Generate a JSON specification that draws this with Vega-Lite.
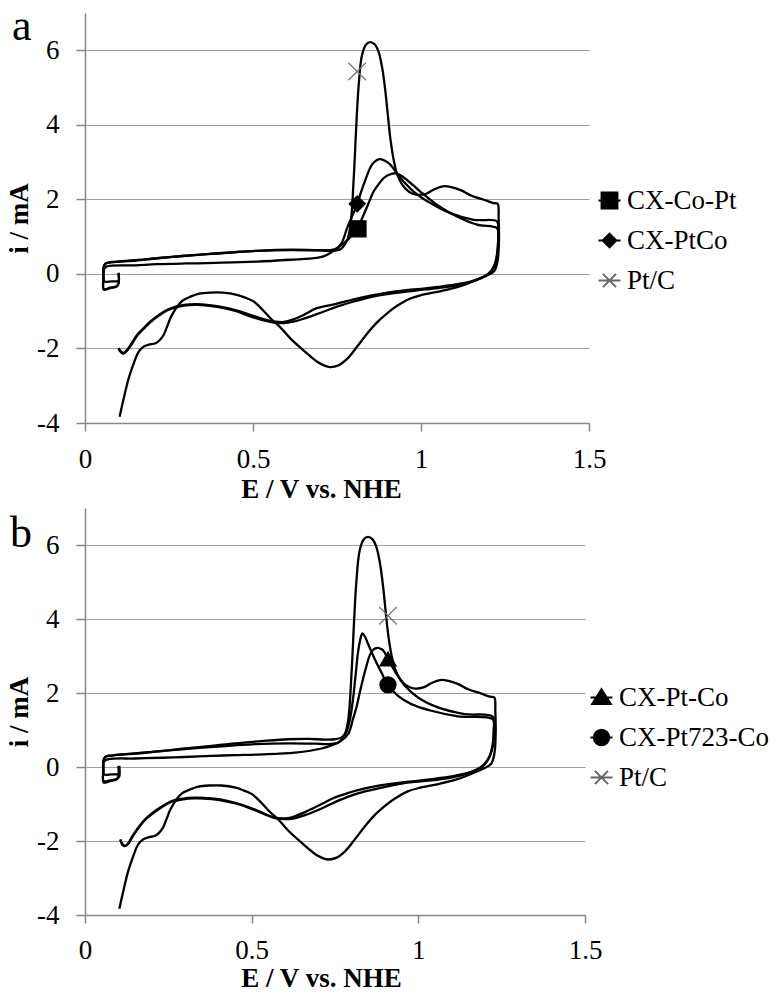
{
  "$schema": "https://vega.github.io/schema/vega-lite/v6.json",
  "background": "white",
  "padding": {"left": 5, "top": 5, "right": 0, "bottom": 0},
  "config": {
    "view": {"stroke": null},
    "style": {"guide-label": {"font": "Liberation Serif"}, "guide-title": {"font": "Liberation Serif"}},
    "axis": {"labelFontSize": 27, "titleFontSize": 27, "labelColor": "black", "titleColor": "black", "domainColor": "#868686", "tickColor": "#868686", "gridColor": "#a0a0a0", "gridWidth": 1, "domainWidth": 1.5, "tickWidth": 1.5},
    "legend": {"labelFontSize": 27, "labelColor": "black", "symbolSize": 484, "symbolStrokeWidth": 2, "rowPadding": 12, "labelOffset": 4, "padding": 0, "orient": "none"},
    "title": {"fontSize": 44, "fontWeight": "normal", "color": "black", "anchor": "start", "offset": 0, "frame": "group", "baseline": "alphabetic"}
  },
  "datasets": {
    "curvesA": [
      {"s":"Pt/C","k":1,"E":0.100,"i":0.03},{"s":"Pt/C","k":2,"E":0.100,"i":-0.25},{"s":"Pt/C","k":3,"E":0.094,"i":-0.34},{"s":"Pt/C","k":4,"E":0.075,"i":-0.38},{"s":"Pt/C","k":5,"E":0.056,"i":-0.42},{"s":"Pt/C","k":6,"E":0.055,"i":-0.1},{"s":"Pt/C","k":7,"E":0.056,"i":0.2},{"s":"Pt/C","k":8,"E":0.062,"i":0.28},{"s":"Pt/C","k":9,"E":0.08,"i":0.31},{"s":"Pt/C","k":10,"E":0.15,"i":0.36},
      {"s":"Pt/C","k":11,"E":0.214,"i":0.42},{"s":"Pt/C","k":12,"E":0.29,"i":0.48},{"s":"Pt/C","k":13,"E":0.363,"i":0.53},{"s":"Pt/C","k":14,"E":0.44,"i":0.58},{"s":"Pt/C","k":15,"E":0.512,"i":0.62},{"s":"Pt/C","k":16,"E":0.611,"i":0.64},{"s":"Pt/C","k":17,"E":0.69,"i":0.63},{"s":"Pt/C","k":18,"E":0.73,"i":0.62},{"s":"Pt/C","k":19,"E":0.76,"i":0.66},{"s":"Pt/C","k":20,"E":0.78,"i":0.9},
      {"s":"Pt/C","k":21,"E":0.79,"i":1.3},{"s":"Pt/C","k":22,"E":0.80,"i":2.6},{"s":"Pt/C","k":23,"E":0.807,"i":3.9},{"s":"Pt/C","k":24,"E":0.814,"i":5.0},{"s":"Pt/C","k":25,"E":0.824,"i":5.85},{"s":"Pt/C","k":26,"E":0.836,"i":6.15},{"s":"Pt/C","k":27,"E":0.849,"i":6.22},{"s":"Pt/C","k":28,"E":0.862,"i":6.16},{"s":"Pt/C","k":29,"E":0.874,"i":5.95},{"s":"Pt/C","k":30,"E":0.885,"i":5.5},
      {"s":"Pt/C","k":31,"E":0.894,"i":4.9},{"s":"Pt/C","k":32,"E":0.902,"i":4.2},{"s":"Pt/C","k":33,"E":0.91,"i":3.55},{"s":"Pt/C","k":34,"E":0.92,"i":3.0},{"s":"Pt/C","k":35,"E":0.93,"i":2.65},{"s":"Pt/C","k":36,"E":0.945,"i":2.38},{"s":"Pt/C","k":37,"E":0.965,"i":2.2},{"s":"Pt/C","k":38,"E":0.99,"i":2.12},{"s":"Pt/C","k":39,"E":1.015,"i":2.15},{"s":"Pt/C","k":40,"E":1.04,"i":2.27},
      {"s":"Pt/C","k":41,"E":1.065,"i":2.35},{"s":"Pt/C","k":42,"E":1.09,"i":2.33},{"s":"Pt/C","k":43,"E":1.12,"i":2.24},{"s":"Pt/C","k":44,"E":1.15,"i":2.1},{"s":"Pt/C","k":45,"E":1.187,"i":1.99},{"s":"Pt/C","k":46,"E":1.215,"i":1.9},{"s":"Pt/C","k":47,"E":1.228,"i":1.88},{"s":"Pt/C","k":48,"E":1.231,"i":1.5},{"s":"Pt/C","k":49,"E":1.232,"i":0.9},{"s":"Pt/C","k":50,"E":1.228,"i":0.35},
      {"s":"Pt/C","k":51,"E":1.218,"i":0.08},{"s":"Pt/C","k":52,"E":1.196,"i":-0.04},{"s":"Pt/C","k":53,"E":1.16,"i":-0.18},{"s":"Pt/C","k":54,"E":1.117,"i":-0.33},{"s":"Pt/C","k":55,"E":1.06,"i":-0.46},{"s":"Pt/C","k":56,"E":1.0,"i":-0.57},{"s":"Pt/C","k":57,"E":0.968,"i":-0.66},{"s":"Pt/C","k":58,"E":0.93,"i":-0.85},{"s":"Pt/C","k":59,"E":0.9,"i":-1.05},{"s":"Pt/C","k":60,"E":0.869,"i":-1.3},
      {"s":"Pt/C","k":61,"E":0.84,"i":-1.6},{"s":"Pt/C","k":62,"E":0.81,"i":-1.95},{"s":"Pt/C","k":63,"E":0.78,"i":-2.28},{"s":"Pt/C","k":64,"E":0.755,"i":-2.45},{"s":"Pt/C","k":65,"E":0.729,"i":-2.5},{"s":"Pt/C","k":66,"E":0.71,"i":-2.45},{"s":"Pt/C","k":67,"E":0.69,"i":-2.35},{"s":"Pt/C","k":68,"E":0.65,"i":-2.05},{"s":"Pt/C","k":69,"E":0.611,"i":-1.73},{"s":"Pt/C","k":70,"E":0.58,"i":-1.42},
      {"s":"Pt/C","k":71,"E":0.552,"i":-1.19},{"s":"Pt/C","k":72,"E":0.525,"i":-0.93},{"s":"Pt/C","k":73,"E":0.502,"i":-0.74},{"s":"Pt/C","k":74,"E":0.475,"i":-0.63},{"s":"Pt/C","k":75,"E":0.452,"i":-0.56},{"s":"Pt/C","k":76,"E":0.41,"i":-0.5},{"s":"Pt/C","k":77,"E":0.373,"i":-0.5},{"s":"Pt/C","k":78,"E":0.34,"i":-0.53},{"s":"Pt/C","k":79,"E":0.314,"i":-0.61},{"s":"Pt/C","k":80,"E":0.29,"i":-0.72},
      {"s":"Pt/C","k":81,"E":0.274,"i":-0.88},{"s":"Pt/C","k":82,"E":0.264,"i":-1.02},{"s":"Pt/C","k":83,"E":0.254,"i":-1.19},{"s":"Pt/C","k":84,"E":0.244,"i":-1.42},{"s":"Pt/C","k":85,"E":0.234,"i":-1.64},{"s":"Pt/C","k":86,"E":0.222,"i":-1.78},{"s":"Pt/C","k":87,"E":0.21,"i":-1.86},{"s":"Pt/C","k":88,"E":0.19,"i":-1.9},{"s":"Pt/C","k":89,"E":0.175,"i":-1.95},{"s":"Pt/C","k":90,"E":0.163,"i":-2.05},
      {"s":"Pt/C","k":91,"E":0.155,"i":-2.17},{"s":"Pt/C","k":92,"E":0.145,"i":-2.4},{"s":"Pt/C","k":93,"E":0.13,"i":-2.8},{"s":"Pt/C","k":94,"E":0.115,"i":-3.35},{"s":"Pt/C","k":95,"E":0.103,"i":-3.83},

      {"s":"CX-PtCo","k":1,"E":0.100,"i":-0.2},{"s":"CX-PtCo","k":2,"E":0.080,"i":-0.2},{"s":"CX-PtCo","k":3,"E":0.057,"i":-0.2},{"s":"CX-PtCo","k":4,"E":0.055,"i":0.05},{"s":"CX-PtCo","k":5,"E":0.057,"i":0.22},{"s":"CX-PtCo","k":6,"E":0.063,"i":0.29},{"s":"CX-PtCo","k":7,"E":0.08,"i":0.32},{"s":"CX-PtCo","k":8,"E":0.15,"i":0.37},{"s":"CX-PtCo","k":9,"E":0.214,"i":0.42},{"s":"CX-PtCo","k":10,"E":0.29,"i":0.48},
      {"s":"CX-PtCo","k":11,"E":0.363,"i":0.53},{"s":"CX-PtCo","k":12,"E":0.44,"i":0.58},{"s":"CX-PtCo","k":13,"E":0.512,"i":0.62},{"s":"CX-PtCo","k":14,"E":0.611,"i":0.65},{"s":"CX-PtCo","k":15,"E":0.69,"i":0.64},{"s":"CX-PtCo","k":16,"E":0.73,"i":0.64},{"s":"CX-PtCo","k":17,"E":0.75,"i":0.69},{"s":"CX-PtCo","k":18,"E":0.765,"i":0.85},{"s":"CX-PtCo","k":19,"E":0.78,"i":1.23},{"s":"CX-PtCo","k":20,"E":0.795,"i":1.55},
      {"s":"CX-PtCo","k":21,"E":0.81,"i":1.88},{"s":"CX-PtCo","k":22,"E":0.829,"i":2.39},{"s":"CX-PtCo","k":23,"E":0.854,"i":2.93},{"s":"CX-PtCo","k":24,"E":0.868,"i":3.05},{"s":"CX-PtCo","k":25,"E":0.879,"i":3.08},{"s":"CX-PtCo","k":26,"E":0.894,"i":3.03},{"s":"CX-PtCo","k":27,"E":0.909,"i":2.93},{"s":"CX-PtCo","k":28,"E":0.939,"i":2.57},{"s":"CX-PtCo","k":29,"E":0.978,"i":2.21},{"s":"CX-PtCo","k":30,"E":1.028,"i":1.9},
      {"s":"CX-PtCo","k":31,"E":1.087,"i":1.63},{"s":"CX-PtCo","k":32,"E":1.157,"i":1.45},{"s":"CX-PtCo","k":33,"E":1.226,"i":1.41},{"s":"CX-PtCo","k":34,"E":1.23,"i":1.2},{"s":"CX-PtCo","k":35,"E":1.228,"i":0.7},{"s":"CX-PtCo","k":36,"E":1.222,"i":0.33},{"s":"CX-PtCo","k":37,"E":1.205,"i":0.02},{"s":"CX-PtCo","k":38,"E":1.18,"i":-0.1},{"s":"CX-PtCo","k":39,"E":1.15,"i":-0.2},{"s":"CX-PtCo","k":40,"E":1.1,"i":-0.29},
      {"s":"CX-PtCo","k":41,"E":1.05,"i":-0.35},{"s":"CX-PtCo","k":42,"E":1.0,"i":-0.4},{"s":"CX-PtCo","k":43,"E":0.95,"i":-0.44},{"s":"CX-PtCo","k":44,"E":0.9,"i":-0.5},{"s":"CX-PtCo","k":45,"E":0.85,"i":-0.58},{"s":"CX-PtCo","k":46,"E":0.8,"i":-0.68},{"s":"CX-PtCo","k":47,"E":0.75,"i":-0.8},{"s":"CX-PtCo","k":48,"E":0.69,"i":-0.92},{"s":"CX-PtCo","k":49,"E":0.651,"i":-1.1},{"s":"CX-PtCo","k":50,"E":0.62,"i":-1.22},
      {"s":"CX-PtCo","k":51,"E":0.591,"i":-1.29},{"s":"CX-PtCo","k":52,"E":0.565,"i":-1.28},{"s":"CX-PtCo","k":53,"E":0.542,"i":-1.24},{"s":"CX-PtCo","k":54,"E":0.492,"i":-1.1},{"s":"CX-PtCo","k":55,"E":0.45,"i":-0.98},{"s":"CX-PtCo","k":56,"E":0.413,"i":-0.9},{"s":"CX-PtCo","k":57,"E":0.37,"i":-0.84},{"s":"CX-PtCo","k":58,"E":0.333,"i":-0.81},{"s":"CX-PtCo","k":59,"E":0.294,"i":-0.83},{"s":"CX-PtCo","k":60,"E":0.27,"i":-0.88},
      {"s":"CX-PtCo","k":61,"E":0.244,"i":-0.97},{"s":"CX-PtCo","k":62,"E":0.22,"i":-1.1},{"s":"CX-PtCo","k":63,"E":0.194,"i":-1.28},{"s":"CX-PtCo","k":64,"E":0.175,"i":-1.45},{"s":"CX-PtCo","k":65,"E":0.155,"i":-1.64},{"s":"CX-PtCo","k":66,"E":0.138,"i":-1.88},{"s":"CX-PtCo","k":67,"E":0.125,"i":-2.04},{"s":"CX-PtCo","k":68,"E":0.115,"i":-2.12},{"s":"CX-PtCo","k":69,"E":0.107,"i":-2.08},{"s":"CX-PtCo","k":70,"E":0.1,"i":-1.99},

      {"s":"CX-Co-Pt","k":1,"E":0.100,"i":0.03},{"s":"CX-Co-Pt","k":2,"E":0.100,"i":-0.25},{"s":"CX-Co-Pt","k":3,"E":0.094,"i":-0.33},{"s":"CX-Co-Pt","k":4,"E":0.075,"i":-0.37},{"s":"CX-Co-Pt","k":5,"E":0.056,"i":-0.41},{"s":"CX-Co-Pt","k":6,"E":0.055,"i":-0.1},{"s":"CX-Co-Pt","k":7,"E":0.056,"i":0.12},{"s":"CX-Co-Pt","k":8,"E":0.065,"i":0.2},{"s":"CX-Co-Pt","k":9,"E":0.15,"i":0.23},{"s":"CX-Co-Pt","k":10,"E":0.214,"i":0.26},
      {"s":"CX-Co-Pt","k":11,"E":0.3,"i":0.28},{"s":"CX-Co-Pt","k":12,"E":0.363,"i":0.29},{"s":"CX-Co-Pt","k":13,"E":0.44,"i":0.31},{"s":"CX-Co-Pt","k":14,"E":0.512,"i":0.33},{"s":"CX-Co-Pt","k":15,"E":0.611,"i":0.38},{"s":"CX-Co-Pt","k":16,"E":0.69,"i":0.43},{"s":"CX-Co-Pt","k":17,"E":0.71,"i":0.47},{"s":"CX-Co-Pt","k":18,"E":0.73,"i":0.56},{"s":"CX-Co-Pt","k":19,"E":0.755,"i":0.72},{"s":"CX-Co-Pt","k":20,"E":0.78,"i":0.9},
      {"s":"CX-Co-Pt","k":21,"E":0.8,"i":1.1},{"s":"CX-Co-Pt","k":22,"E":0.81,"i":1.21},{"s":"CX-Co-Pt","k":23,"E":0.829,"i":1.58},{"s":"CX-Co-Pt","k":24,"E":0.845,"i":1.92},{"s":"CX-Co-Pt","k":25,"E":0.859,"i":2.21},{"s":"CX-Co-Pt","k":26,"E":0.875,"i":2.42},{"s":"CX-Co-Pt","k":27,"E":0.889,"i":2.57},{"s":"CX-Co-Pt","k":28,"E":0.905,"i":2.66},{"s":"CX-Co-Pt","k":29,"E":0.924,"i":2.7},{"s":"CX-Co-Pt","k":30,"E":0.94,"i":2.64},
      {"s":"CX-Co-Pt","k":31,"E":0.958,"i":2.52},{"s":"CX-Co-Pt","k":32,"E":0.978,"i":2.37},{"s":"CX-Co-Pt","k":33,"E":0.998,"i":2.21},{"s":"CX-Co-Pt","k":34,"E":1.048,"i":1.85},{"s":"CX-Co-Pt","k":35,"E":1.107,"i":1.54},{"s":"CX-Co-Pt","k":36,"E":1.167,"i":1.32},{"s":"CX-Co-Pt","k":37,"E":1.226,"i":1.23},{"s":"CX-Co-Pt","k":38,"E":1.23,"i":1.0},{"s":"CX-Co-Pt","k":39,"E":1.228,"i":0.6},{"s":"CX-Co-Pt","k":40,"E":1.22,"i":0.25},
      {"s":"CX-Co-Pt","k":41,"E":1.2,"i":0.0},{"s":"CX-Co-Pt","k":42,"E":1.175,"i":-0.13},{"s":"CX-Co-Pt","k":43,"E":1.14,"i":-0.24},{"s":"CX-Co-Pt","k":44,"E":1.1,"i":-0.32},{"s":"CX-Co-Pt","k":45,"E":1.05,"i":-0.38},{"s":"CX-Co-Pt","k":46,"E":1.0,"i":-0.43},{"s":"CX-Co-Pt","k":47,"E":0.95,"i":-0.48},{"s":"CX-Co-Pt","k":48,"E":0.9,"i":-0.54},{"s":"CX-Co-Pt","k":49,"E":0.85,"i":-0.62},{"s":"CX-Co-Pt","k":50,"E":0.8,"i":-0.74},
      {"s":"CX-Co-Pt","k":51,"E":0.75,"i":-0.88},{"s":"CX-Co-Pt","k":52,"E":0.69,"i":-1.08},{"s":"CX-Co-Pt","k":53,"E":0.651,"i":-1.2},{"s":"CX-Co-Pt","k":54,"E":0.62,"i":-1.28},{"s":"CX-Co-Pt","k":55,"E":0.591,"i":-1.32},{"s":"CX-Co-Pt","k":56,"E":0.565,"i":-1.31},{"s":"CX-Co-Pt","k":57,"E":0.542,"i":-1.27},{"s":"CX-Co-Pt","k":58,"E":0.492,"i":-1.14},{"s":"CX-Co-Pt","k":59,"E":0.45,"i":-1.0},{"s":"CX-Co-Pt","k":60,"E":0.413,"i":-0.92},
      {"s":"CX-Co-Pt","k":61,"E":0.37,"i":-0.86},{"s":"CX-Co-Pt","k":62,"E":0.333,"i":-0.83},{"s":"CX-Co-Pt","k":63,"E":0.294,"i":-0.85},{"s":"CX-Co-Pt","k":64,"E":0.27,"i":-0.9},{"s":"CX-Co-Pt","k":65,"E":0.244,"i":-0.98},{"s":"CX-Co-Pt","k":66,"E":0.22,"i":-1.12},{"s":"CX-Co-Pt","k":67,"E":0.194,"i":-1.3},{"s":"CX-Co-Pt","k":68,"E":0.175,"i":-1.47},{"s":"CX-Co-Pt","k":69,"E":0.155,"i":-1.66},{"s":"CX-Co-Pt","k":70,"E":0.138,"i":-1.9},
      {"s":"CX-Co-Pt","k":71,"E":0.125,"i":-2.06},{"s":"CX-Co-Pt","k":72,"E":0.115,"i":-2.14},{"s":"CX-Co-Pt","k":73,"E":0.107,"i":-2.1},{"s":"CX-Co-Pt","k":74,"E":0.1,"i":-2.02}
    ],
    "curvesB": [
      {"s":"Pt/C","k":1,"E":0.100,"i":0.03},{"s":"Pt/C","k":2,"E":0.100,"i":-0.25},{"s":"Pt/C","k":3,"E":0.094,"i":-0.34},{"s":"Pt/C","k":4,"E":0.075,"i":-0.38},{"s":"Pt/C","k":5,"E":0.056,"i":-0.42},{"s":"Pt/C","k":6,"E":0.055,"i":-0.1},{"s":"Pt/C","k":7,"E":0.056,"i":0.2},{"s":"Pt/C","k":8,"E":0.062,"i":0.28},{"s":"Pt/C","k":9,"E":0.08,"i":0.31},{"s":"Pt/C","k":10,"E":0.15,"i":0.36},
      {"s":"Pt/C","k":11,"E":0.214,"i":0.42},{"s":"Pt/C","k":12,"E":0.29,"i":0.48},{"s":"Pt/C","k":13,"E":0.363,"i":0.53},{"s":"Pt/C","k":14,"E":0.44,"i":0.58},{"s":"Pt/C","k":15,"E":0.512,"i":0.62},{"s":"Pt/C","k":16,"E":0.611,"i":0.64},{"s":"Pt/C","k":17,"E":0.69,"i":0.63},{"s":"Pt/C","k":18,"E":0.73,"i":0.62},{"s":"Pt/C","k":19,"E":0.76,"i":0.66},{"s":"Pt/C","k":20,"E":0.78,"i":0.9},
      {"s":"Pt/C","k":21,"E":0.79,"i":1.3},{"s":"Pt/C","k":22,"E":0.80,"i":2.6},{"s":"Pt/C","k":23,"E":0.807,"i":3.9},{"s":"Pt/C","k":24,"E":0.814,"i":5.0},{"s":"Pt/C","k":25,"E":0.824,"i":5.85},{"s":"Pt/C","k":26,"E":0.836,"i":6.15},{"s":"Pt/C","k":27,"E":0.849,"i":6.22},{"s":"Pt/C","k":28,"E":0.862,"i":6.16},{"s":"Pt/C","k":29,"E":0.874,"i":5.95},{"s":"Pt/C","k":30,"E":0.885,"i":5.5},
      {"s":"Pt/C","k":31,"E":0.894,"i":4.9},{"s":"Pt/C","k":32,"E":0.902,"i":4.2},{"s":"Pt/C","k":33,"E":0.91,"i":3.55},{"s":"Pt/C","k":34,"E":0.92,"i":3.0},{"s":"Pt/C","k":35,"E":0.93,"i":2.65},{"s":"Pt/C","k":36,"E":0.945,"i":2.38},{"s":"Pt/C","k":37,"E":0.965,"i":2.2},{"s":"Pt/C","k":38,"E":0.99,"i":2.12},{"s":"Pt/C","k":39,"E":1.015,"i":2.15},{"s":"Pt/C","k":40,"E":1.04,"i":2.27},
      {"s":"Pt/C","k":41,"E":1.065,"i":2.35},{"s":"Pt/C","k":42,"E":1.09,"i":2.33},{"s":"Pt/C","k":43,"E":1.12,"i":2.24},{"s":"Pt/C","k":44,"E":1.15,"i":2.1},{"s":"Pt/C","k":45,"E":1.187,"i":1.99},{"s":"Pt/C","k":46,"E":1.215,"i":1.9},{"s":"Pt/C","k":47,"E":1.228,"i":1.88},{"s":"Pt/C","k":48,"E":1.231,"i":1.5},{"s":"Pt/C","k":49,"E":1.232,"i":0.9},{"s":"Pt/C","k":50,"E":1.228,"i":0.35},
      {"s":"Pt/C","k":51,"E":1.218,"i":0.08},{"s":"Pt/C","k":52,"E":1.196,"i":-0.04},{"s":"Pt/C","k":53,"E":1.16,"i":-0.18},{"s":"Pt/C","k":54,"E":1.117,"i":-0.33},{"s":"Pt/C","k":55,"E":1.06,"i":-0.46},{"s":"Pt/C","k":56,"E":1.0,"i":-0.57},{"s":"Pt/C","k":57,"E":0.968,"i":-0.66},{"s":"Pt/C","k":58,"E":0.93,"i":-0.85},{"s":"Pt/C","k":59,"E":0.9,"i":-1.05},{"s":"Pt/C","k":60,"E":0.869,"i":-1.3},
      {"s":"Pt/C","k":61,"E":0.84,"i":-1.6},{"s":"Pt/C","k":62,"E":0.81,"i":-1.95},{"s":"Pt/C","k":63,"E":0.78,"i":-2.28},{"s":"Pt/C","k":64,"E":0.755,"i":-2.45},{"s":"Pt/C","k":65,"E":0.729,"i":-2.5},{"s":"Pt/C","k":66,"E":0.71,"i":-2.45},{"s":"Pt/C","k":67,"E":0.69,"i":-2.35},{"s":"Pt/C","k":68,"E":0.65,"i":-2.05},{"s":"Pt/C","k":69,"E":0.611,"i":-1.73},{"s":"Pt/C","k":70,"E":0.58,"i":-1.42},
      {"s":"Pt/C","k":71,"E":0.552,"i":-1.19},{"s":"Pt/C","k":72,"E":0.525,"i":-0.93},{"s":"Pt/C","k":73,"E":0.502,"i":-0.74},{"s":"Pt/C","k":74,"E":0.475,"i":-0.63},{"s":"Pt/C","k":75,"E":0.452,"i":-0.56},{"s":"Pt/C","k":76,"E":0.41,"i":-0.5},{"s":"Pt/C","k":77,"E":0.373,"i":-0.5},{"s":"Pt/C","k":78,"E":0.34,"i":-0.53},{"s":"Pt/C","k":79,"E":0.314,"i":-0.61},{"s":"Pt/C","k":80,"E":0.29,"i":-0.72},
      {"s":"Pt/C","k":81,"E":0.274,"i":-0.88},{"s":"Pt/C","k":82,"E":0.264,"i":-1.02},{"s":"Pt/C","k":83,"E":0.254,"i":-1.19},{"s":"Pt/C","k":84,"E":0.244,"i":-1.42},{"s":"Pt/C","k":85,"E":0.234,"i":-1.64},{"s":"Pt/C","k":86,"E":0.222,"i":-1.78},{"s":"Pt/C","k":87,"E":0.21,"i":-1.86},{"s":"Pt/C","k":88,"E":0.19,"i":-1.9},{"s":"Pt/C","k":89,"E":0.175,"i":-1.95},{"s":"Pt/C","k":90,"E":0.163,"i":-2.05},
      {"s":"Pt/C","k":91,"E":0.155,"i":-2.17},{"s":"Pt/C","k":92,"E":0.145,"i":-2.4},{"s":"Pt/C","k":93,"E":0.13,"i":-2.8},{"s":"Pt/C","k":94,"E":0.115,"i":-3.35},{"s":"Pt/C","k":95,"E":0.103,"i":-3.83},

      {"s":"CX-Pt-Co","k":1,"E":0.103,"i":0.03},{"s":"CX-Pt-Co","k":2,"E":0.103,"i":-0.25},{"s":"CX-Pt-Co","k":3,"E":0.097,"i":-0.32},{"s":"CX-Pt-Co","k":4,"E":0.075,"i":-0.36},{"s":"CX-Pt-Co","k":5,"E":0.056,"i":-0.38},{"s":"CX-Pt-Co","k":6,"E":0.055,"i":-0.1},{"s":"CX-Pt-Co","k":7,"E":0.056,"i":0.14},{"s":"CX-Pt-Co","k":8,"E":0.071,"i":0.21},{"s":"CX-Pt-Co","k":9,"E":0.15,"i":0.23},{"s":"CX-Pt-Co","k":10,"E":0.231,"i":0.25},
      {"s":"CX-Pt-Co","k":11,"E":0.3,"i":0.27},{"s":"CX-Pt-Co","k":12,"E":0.38,"i":0.30},{"s":"CX-Pt-Co","k":13,"E":0.45,"i":0.32},{"s":"CX-Pt-Co","k":14,"E":0.53,"i":0.34},{"s":"CX-Pt-Co","k":15,"E":0.63,"i":0.39},{"s":"CX-Pt-Co","k":16,"E":0.71,"i":0.5},{"s":"CX-Pt-Co","k":17,"E":0.75,"i":0.62},{"s":"CX-Pt-Co","k":18,"E":0.77,"i":0.72},{"s":"CX-Pt-Co","k":19,"E":0.79,"i":0.9},{"s":"CX-Pt-Co","k":20,"E":0.804,"i":1.3},
      {"s":"CX-Pt-Co","k":21,"E":0.814,"i":1.6},{"s":"CX-Pt-Co","k":22,"E":0.824,"i":2.0},{"s":"CX-Pt-Co","k":23,"E":0.834,"i":2.38},{"s":"CX-Pt-Co","k":24,"E":0.845,"i":2.75},{"s":"CX-Pt-Co","k":25,"E":0.854,"i":3.01},{"s":"CX-Pt-Co","k":26,"E":0.865,"i":3.17},{"s":"CX-Pt-Co","k":27,"E":0.877,"i":3.22},{"s":"CX-Pt-Co","k":28,"E":0.89,"i":3.18},{"s":"CX-Pt-Co","k":29,"E":0.897,"i":3.12},{"s":"CX-Pt-Co","k":30,"E":0.909,"i":2.92},
      {"s":"CX-Pt-Co","k":31,"E":0.929,"i":2.6},{"s":"CX-Pt-Co","k":32,"E":0.959,"i":2.2},{"s":"CX-Pt-Co","k":33,"E":0.999,"i":1.88},{"s":"CX-Pt-Co","k":34,"E":1.059,"i":1.61},{"s":"CX-Pt-Co","k":35,"E":1.139,"i":1.43},{"s":"CX-Pt-Co","k":36,"E":1.223,"i":1.36},{"s":"CX-Pt-Co","k":37,"E":1.226,"i":1.0},{"s":"CX-Pt-Co","k":38,"E":1.223,"i":0.6},{"s":"CX-Pt-Co","k":39,"E":1.214,"i":0.3},{"s":"CX-Pt-Co","k":40,"E":1.195,"i":0.05},
      {"s":"CX-Pt-Co","k":41,"E":1.175,"i":-0.07},{"s":"CX-Pt-Co","k":42,"E":1.139,"i":-0.2},{"s":"CX-Pt-Co","k":43,"E":1.09,"i":-0.3},{"s":"CX-Pt-Co","k":44,"E":1.04,"i":-0.36},{"s":"CX-Pt-Co","k":45,"E":0.989,"i":-0.4},{"s":"CX-Pt-Co","k":46,"E":0.94,"i":-0.46},{"s":"CX-Pt-Co","k":47,"E":0.889,"i":-0.56},{"s":"CX-Pt-Co","k":48,"E":0.84,"i":-0.66},{"s":"CX-Pt-Co","k":49,"E":0.79,"i":-0.8},{"s":"CX-Pt-Co","k":50,"E":0.75,"i":-0.95},
      {"s":"CX-Pt-Co","k":51,"E":0.71,"i":-1.12},{"s":"CX-Pt-Co","k":52,"E":0.66,"i":-1.3},{"s":"CX-Pt-Co","k":53,"E":0.62,"i":-1.4},{"s":"CX-Pt-Co","k":54,"E":0.6,"i":-1.41},{"s":"CX-Pt-Co","k":55,"E":0.57,"i":-1.38},{"s":"CX-Pt-Co","k":56,"E":0.54,"i":-1.28},{"s":"CX-Pt-Co","k":57,"E":0.51,"i":-1.17},{"s":"CX-Pt-Co","k":58,"E":0.47,"i":-1.03},{"s":"CX-Pt-Co","k":59,"E":0.43,"i":-0.94},{"s":"CX-Pt-Co","k":60,"E":0.38,"i":-0.87},
      {"s":"CX-Pt-Co","k":61,"E":0.33,"i":-0.85},{"s":"CX-Pt-Co","k":62,"E":0.29,"i":-0.88},{"s":"CX-Pt-Co","k":63,"E":0.26,"i":-0.94},{"s":"CX-Pt-Co","k":64,"E":0.22,"i":-1.15},{"s":"CX-Pt-Co","k":65,"E":0.18,"i":-1.43},{"s":"CX-Pt-Co","k":66,"E":0.155,"i":-1.72},{"s":"CX-Pt-Co","k":67,"E":0.14,"i":-1.92},{"s":"CX-Pt-Co","k":68,"E":0.131,"i":-2.06},{"s":"CX-Pt-Co","k":69,"E":0.12,"i":-2.14},{"s":"CX-Pt-Co","k":70,"E":0.112,"i":-2.1},
      {"s":"CX-Pt-Co","k":71,"E":0.106,"i":-1.96},

      {"s":"CX-Pt723-Co","k":1,"E":0.103,"i":-0.2},{"s":"CX-Pt723-Co","k":2,"E":0.08,"i":-0.2},{"s":"CX-Pt723-Co","k":3,"E":0.057,"i":-0.2},{"s":"CX-Pt723-Co","k":4,"E":0.055,"i":0.05},{"s":"CX-Pt723-Co","k":5,"E":0.057,"i":0.22},{"s":"CX-Pt723-Co","k":6,"E":0.065,"i":0.29},{"s":"CX-Pt723-Co","k":7,"E":0.08,"i":0.31},{"s":"CX-Pt723-Co","k":8,"E":0.15,"i":0.37},{"s":"CX-Pt723-Co","k":9,"E":0.231,"i":0.43},{"s":"CX-Pt723-Co","k":10,"E":0.3,"i":0.5},
      {"s":"CX-Pt723-Co","k":11,"E":0.38,"i":0.57},{"s":"CX-Pt723-Co","k":12,"E":0.45,"i":0.64},{"s":"CX-Pt723-Co","k":13,"E":0.53,"i":0.70},{"s":"CX-Pt723-Co","k":14,"E":0.61,"i":0.75},{"s":"CX-Pt723-Co","k":15,"E":0.67,"i":0.76},{"s":"CX-Pt723-Co","k":16,"E":0.72,"i":0.74},{"s":"CX-Pt723-Co","k":17,"E":0.75,"i":0.75},{"s":"CX-Pt723-Co","k":18,"E":0.77,"i":0.8},{"s":"CX-Pt723-Co","k":19,"E":0.784,"i":0.95},{"s":"CX-Pt723-Co","k":20,"E":0.795,"i":1.3},
      {"s":"CX-Pt723-Co","k":21,"E":0.804,"i":1.83},{"s":"CX-Pt723-Co","k":22,"E":0.812,"i":2.5},{"s":"CX-Pt723-Co","k":23,"E":0.819,"i":3.1},{"s":"CX-Pt723-Co","k":24,"E":0.826,"i":3.45},{"s":"CX-Pt723-Co","k":25,"E":0.832,"i":3.61},{"s":"CX-Pt723-Co","k":26,"E":0.84,"i":3.52},{"s":"CX-Pt723-Co","k":27,"E":0.849,"i":3.33},{"s":"CX-Pt723-Co","k":28,"E":0.869,"i":2.92},{"s":"CX-Pt723-Co","k":29,"E":0.889,"i":2.56},{"s":"CX-Pt723-Co","k":30,"E":0.909,"i":2.22},
      {"s":"CX-Pt723-Co","k":31,"E":0.939,"i":1.92},{"s":"CX-Pt723-Co","k":32,"E":0.979,"i":1.7},{"s":"CX-Pt723-Co","k":33,"E":1.039,"i":1.52},{"s":"CX-Pt723-Co","k":34,"E":1.119,"i":1.37},{"s":"CX-Pt723-Co","k":35,"E":1.223,"i":1.29},{"s":"CX-Pt723-Co","k":36,"E":1.227,"i":1.0},{"s":"CX-Pt723-Co","k":37,"E":1.224,"i":0.6},{"s":"CX-Pt723-Co","k":38,"E":1.215,"i":0.3},{"s":"CX-Pt723-Co","k":39,"E":1.197,"i":0.05},{"s":"CX-Pt723-Co","k":40,"E":1.179,"i":-0.06},
      {"s":"CX-Pt723-Co","k":41,"E":1.139,"i":-0.18},{"s":"CX-Pt723-Co","k":42,"E":1.09,"i":-0.27},{"s":"CX-Pt723-Co","k":43,"E":1.04,"i":-0.33},{"s":"CX-Pt723-Co","k":44,"E":0.989,"i":-0.38},{"s":"CX-Pt723-Co","k":45,"E":0.94,"i":-0.43},{"s":"CX-Pt723-Co","k":46,"E":0.889,"i":-0.49},{"s":"CX-Pt723-Co","k":47,"E":0.84,"i":-0.58},{"s":"CX-Pt723-Co","k":48,"E":0.79,"i":-0.7},{"s":"CX-Pt723-Co","k":49,"E":0.75,"i":-0.82},{"s":"CX-Pt723-Co","k":50,"E":0.71,"i":-1.0},
      {"s":"CX-Pt723-Co","k":51,"E":0.66,"i":-1.22},{"s":"CX-Pt723-Co","k":52,"E":0.62,"i":-1.36},{"s":"CX-Pt723-Co","k":53,"E":0.6,"i":-1.39},{"s":"CX-Pt723-Co","k":54,"E":0.57,"i":-1.37},{"s":"CX-Pt723-Co","k":55,"E":0.54,"i":-1.27},{"s":"CX-Pt723-Co","k":56,"E":0.51,"i":-1.15},{"s":"CX-Pt723-Co","k":57,"E":0.47,"i":-1.02},{"s":"CX-Pt723-Co","k":58,"E":0.43,"i":-0.92},{"s":"CX-Pt723-Co","k":59,"E":0.38,"i":-0.85},{"s":"CX-Pt723-Co","k":60,"E":0.33,"i":-0.83},
      {"s":"CX-Pt723-Co","k":61,"E":0.29,"i":-0.86},{"s":"CX-Pt723-Co","k":62,"E":0.26,"i":-0.92},{"s":"CX-Pt723-Co","k":63,"E":0.22,"i":-1.13},{"s":"CX-Pt723-Co","k":64,"E":0.18,"i":-1.42},{"s":"CX-Pt723-Co","k":65,"E":0.155,"i":-1.7},{"s":"CX-Pt723-Co","k":66,"E":0.14,"i":-1.9},{"s":"CX-Pt723-Co","k":67,"E":0.131,"i":-2.05},{"s":"CX-Pt723-Co","k":68,"E":0.12,"i":-2.13},{"s":"CX-Pt723-Co","k":69,"E":0.112,"i":-2.08},{"s":"CX-Pt723-Co","k":70,"E":0.106,"i":-1.96}
    ],
    "markersA": [
      {"s":"CX-Co-Pt","E":0.8125,"i":1.21},
      {"s":"CX-PtCo","E":0.81,"i":1.88},
      {"s":"Pt/C","E":0.81,"i":5.43}
    ],
    "markersB": [
      {"s":"CX-Pt-Co","E":0.909,"i":2.92},
      {"s":"CX-Pt723-Co","E":0.909,"i":2.22},
      {"s":"Pt/C","E":0.909,"i":4.09}
    ]
  },
  "spacing": 6,
  "vconcat": [
    {
      "width": 504,
      "height": 410,
      "title": {"text": "a", "dx": -73, "dy": 40, "font": "Liberation Serif", "fontSize": 44, "fontWeight": "normal"},
      "encoding": {
        "x": {"field": "E", "type": "quantitative", "scale": {"domain": [0, 1.5], "nice": false}, "axis": {"values": [0, 0.5, 1, 1.5], "labelExpr": "datum.value + ''", "grid": false, "tickSize": 8, "labelPadding": 15, "title": "E / V vs. NHE", "titleX": 236, "titlePadding": 4, "labelFlush": false, "labelOverlap": false, "labelFont": "Liberation Serif", "titleFont": "Liberation Serif", "labelFontSize": 27, "titleFontSize": 27, "titleFontWeight": "bold", "labelColor": "black", "titleColor": "black"}},
        "y": {"field": "i", "type": "quantitative", "scale": {"domain": [-4, 7], "nice": false}, "axis": {"values": [-4, -2, 0, 2, 4, 6], "labelExpr": "datum.value + ''", "grid": true, "tickSize": 9, "labelPadding": 17, "title": "i / mA", "titlePadding": 3, "labelFlush": false, "labelFont": "Liberation Serif", "titleFont": "Liberation Serif", "labelFontSize": 27, "titleFontSize": 27, "titleFontWeight": "bold", "labelColor": "black", "titleColor": "black"}}
      },
      "layer": [
        {"data": {"name": "curvesA"}, "mark": {"type": "line", "interpolate": "catmull-rom", "color": "black", "strokeWidth": 2.3}, "encoding": {"detail": {"field": "s"}, "order": {"field": "k", "type": "quantitative"}}},
        {"data": {"name": "markersA"}, "mark": {"type": "point", "filled": true, "opacity": 1, "strokeWidth": 1.3, "size": 256},
         "encoding": {
           "shape": {"field": "s", "type": "nominal", "scale": {"domain": ["CX-Co-Pt", "CX-PtCo", "Pt/C"], "range": ["square", "diamond", "M-1.1,-1.1L1.1,1.1M-1.1,1.1L1.1,-1.1"]}, "legend": null},
           "fill": {"field": "s", "type": "nominal", "scale": {"domain": ["CX-Co-Pt", "CX-PtCo", "Pt/C"], "range": ["black", "black", "#777777"]}, "legend": null},
           "stroke": {"field": "s", "type": "nominal", "scale": {"domain": ["CX-Co-Pt", "CX-PtCo", "Pt/C"], "range": ["black", "black", "#777777"]}, "legend": null}
         }},
        {"data": {"name": "markersA"}, "transform": [{"filter": "false"}], "mark": {"type": "point", "filled": true, "opacity": 1},
         "encoding": {
           "shape": {"field": "s", "type": "nominal", "scale": {"domain": ["CX-Co-Pt", "CX-PtCo", "Pt/C"], "range": ["M-1,0H1M-0.72,-0.72H0.72V0.72H-0.72Z", "M-1,0H1M0,-0.62L0.62,0L0,0.62L-0.62,0Z", "M-1,0H1M-0.6,-0.6L0.6,0.6M-0.6,0.6L0.6,-0.6"]}, "legend": {"title": null, "legendX": 511, "legendY": 174, "labelFont": "Liberation Serif", "labelFontSize": 27, "labelColor": "black"}},
           "fill": {"field": "s", "type": "nominal", "scale": {"domain": ["CX-Co-Pt", "CX-PtCo", "Pt/C"], "range": ["black", "black", "#666666"]}, "legend": {"title": null, "legendX": 511, "legendY": 174, "labelFont": "Liberation Serif", "labelFontSize": 27, "labelColor": "black"}},
           "stroke": {"field": "s", "type": "nominal", "scale": {"domain": ["CX-Co-Pt", "CX-PtCo", "Pt/C"], "range": ["black", "black", "#666666"]}, "legend": {"title": null, "legendX": 511, "legendY": 174, "labelFont": "Liberation Serif", "labelFontSize": 27, "labelColor": "black"}}
         }}
      ],
      "resolve": {"scale": {"shape": "independent", "fill": "independent", "stroke": "independent"}}
    },
    {
      "width": 500,
      "height": 407,
      "title": {"text": "b", "dx": -75, "dy": 52, "font": "Liberation Serif", "fontSize": 44, "fontWeight": "normal"},
      "encoding": {
        "x": {"field": "E", "type": "quantitative", "scale": {"domain": [0, 1.5], "nice": false}, "axis": {"values": [0, 0.5, 1, 1.5], "labelExpr": "datum.value + ''", "grid": false, "tickSize": 8, "labelPadding": 14, "title": "E / V vs. NHE", "titleX": 236, "titlePadding": 2, "labelFlush": false, "labelOverlap": false, "labelFont": "Liberation Serif", "titleFont": "Liberation Serif", "labelFontSize": 27, "titleFontSize": 27, "titleFontWeight": "bold", "labelColor": "black", "titleColor": "black"}},
        "y": {"field": "i", "type": "quantitative", "scale": {"domain": [-4, 7], "nice": false}, "axis": {"values": [-4, -2, 0, 2, 4, 6], "labelExpr": "datum.value + ''", "grid": true, "tickSize": 9, "labelPadding": 17, "title": "i / mA", "titlePadding": 3, "labelFlush": false, "labelFont": "Liberation Serif", "titleFont": "Liberation Serif", "labelFontSize": 27, "titleFontSize": 27, "titleFontWeight": "bold", "labelColor": "black", "titleColor": "black"}}
      },
      "layer": [
        {"data": {"name": "curvesB"}, "mark": {"type": "line", "interpolate": "catmull-rom", "color": "black", "strokeWidth": 2.3}, "encoding": {"detail": {"field": "s"}, "order": {"field": "k", "type": "quantitative"}}},
        {"data": {"name": "markersB"}, "mark": {"type": "point", "filled": true, "opacity": 1, "strokeWidth": 1.3, "size": 256},
         "encoding": {
           "shape": {"field": "s", "type": "nominal", "scale": {"domain": ["CX-Pt-Co", "CX-Pt723-Co", "Pt/C"], "range": ["triangle-up", "circle", "M-1.1,-1.1L1.1,1.1M-1.1,1.1L1.1,-1.1"]}, "legend": null},
           "fill": {"field": "s", "type": "nominal", "scale": {"domain": ["CX-Pt-Co", "CX-Pt723-Co", "Pt/C"], "range": ["black", "black", "#777777"]}, "legend": null},
           "stroke": {"field": "s", "type": "nominal", "scale": {"domain": ["CX-Pt-Co", "CX-Pt723-Co", "Pt/C"], "range": ["black", "black", "#777777"]}, "legend": null}
         }},
        {"data": {"name": "markersB"}, "transform": [{"filter": "false"}], "mark": {"type": "point", "filled": true, "opacity": 1},
         "encoding": {
           "shape": {"field": "s", "type": "nominal", "scale": {"domain": ["CX-Pt-Co", "CX-Pt723-Co", "Pt/C"], "range": ["M-1,0H1M0,-0.75L0.85,0.6L-0.85,0.6Z", "M-1,0H1M0.7,0A0.7,0.7,0,1,1,-0.7,0A0.7,0.7,0,1,1,0.7,0Z", "M-1,0H1M-0.6,-0.6L0.6,0.6M-0.6,0.6L0.6,-0.6"]}, "legend": {"title": null, "legendX": 503, "legendY": 176, "labelFont": "Liberation Serif", "labelFontSize": 27, "labelColor": "black"}},
           "fill": {"field": "s", "type": "nominal", "scale": {"domain": ["CX-Pt-Co", "CX-Pt723-Co", "Pt/C"], "range": ["black", "black", "#666666"]}, "legend": {"title": null, "legendX": 503, "legendY": 176, "labelFont": "Liberation Serif", "labelFontSize": 27, "labelColor": "black"}},
           "stroke": {"field": "s", "type": "nominal", "scale": {"domain": ["CX-Pt-Co", "CX-Pt723-Co", "Pt/C"], "range": ["black", "black", "#666666"]}, "legend": {"title": null, "legendX": 503, "legendY": 176, "labelFont": "Liberation Serif", "labelFontSize": 27, "labelColor": "black"}}
         }}
      ],
      "resolve": {"scale": {"shape": "independent", "fill": "independent", "stroke": "independent"}}
    }
  ]
}
